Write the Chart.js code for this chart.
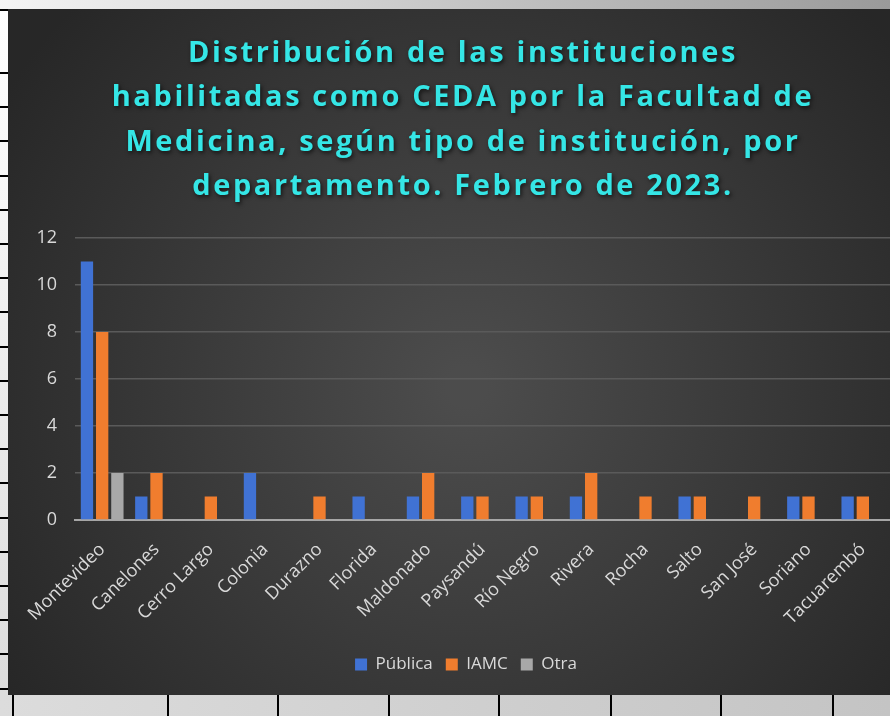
<!DOCTYPE html>
<html>
<head>
<meta charset="utf-8">
<script src="https://cdn.jsdelivr.net/npm/chart.js@4"></script>
<style>
  body { margin: 0; width: 890px; height: 716px; overflow: hidden; background: #fff; position: relative; }
  #topbar { position: absolute; left: 0; top: 0; width: 890px; height: 9px; background: linear-gradient(to right, #f4f4f4, #9a9a9a); }
  #leftcol { position: absolute; left: 0; top: 9px; width: 8px; height: 686px; background: linear-gradient(to bottom, #ffffff, #dcdcdc); border-top: 2px solid #000; box-sizing: border-box; }
  #leftlines { position: absolute; left: 0; top: 72px; width: 8px; height: 623px;
    background: repeating-linear-gradient(to bottom, #000 0, #000 2px, transparent 2px, transparent 34.2px); }
  #bottombar { position: absolute; left: 0; top: 695px; width: 890px; height: 21px; background: linear-gradient(to right, #dcdcdc, #c4c4c4); }
  .vline { position: absolute; top: 0; width: 2px; height: 21px; background: #000; }
  #wrap { position: absolute; left: 8px; top: 9px; width: 882px; height: 686px; }
</style>
</head>
<body>
<div id="topbar"></div>
<div id="leftcol"></div>
<div id="leftlines"></div>
<div id="bottombar"></div>
<div id="wrap"><canvas id="grafico"></canvas></div>
<script>
const departamentos = ['Montevideo', 'Canelones', 'Cerro Largo', 'Colonia', 'Durazno', 'Florida', 'Maldonado',
  'Paysandú', 'Río Negro', 'Rivera', 'Rocha', 'Salto', 'San José', 'Soriano', 'Tacuarembó'];
const publica = [11, 1, 0, 2, 0, 1, 1, 1, 1, 1, 0, 1, 0, 1, 1];
const iamc    = [8, 2, 1, 0, 1, 0, 2, 1, 1, 2, 1, 1, 1, 1, 1];
const otra    = [2, 0, 0, 0, 0, 0, 0, 0, 0, 0, 0, 0, 0, 0, 0];
const titulo = ['Distribución de las instituciones',
  'habilitadas como CEDA por la Facultad de',
  'Medicina, según tipo de institución, por',
  'departamento. Febrero de 2023.'];

// lineas de celdas de la planilla abajo
[12, 167, 277, 388, 498, 610, 720, 832].forEach(x => {
  const d = document.createElement('div');
  d.className = 'vline';
  d.style.left = x + 'px';
  document.getElementById('bottombar').appendChild(d);
});

// fondo oscuro con degradado
const fondo = {
  id: 'fondo',
  beforeDraw(chart) {
    const { ctx, width, height } = chart;
    const g = ctx.createRadialGradient(width * 0.52, height * 0.55, 20, width * 0.52, height * 0.55, width * 0.62);
    g.addColorStop(0, '#4c4c4c');
    g.addColorStop(1, '#272727');
    ctx.save();
    ctx.fillStyle = g;
    ctx.fillRect(0, 0, width, height);
    ctx.restore();
  }
};

// titulo con espaciado de letras (el plugin de titulo no lo permite)
const tituloEspaciado = {
  id: 'tituloEspaciado',
  afterDraw(chart) {
    const { ctx } = chart;
    ctx.save();
    ctx.font = 'bold 29px "Open Sans"';
    ctx.letterSpacing = '2.6px';
    ctx.textAlign = 'center';
    ctx.textBaseline = 'alphabetic';
    ctx.fillStyle = '#35e6e6';
    ctx.shadowColor = 'rgba(0,0,0,0.65)';
    ctx.shadowBlur = 4;
    ctx.shadowOffsetX = 1.5;
    ctx.shadowOffsetY = 2;
    titulo.forEach((linea, i) => {
      ctx.fillText(linea, 455, 53 + i * 44.4);
    });
    ctx.restore();
  }
};

// la leyenda en Excel queda un poco corrida a la derecha
const correrLeyenda = {
  id: 'correrLeyenda',
  afterLayout(chart) {
    chart.legend.left += 17;
    chart.legend.right += 17;
  }
};

const ctx = document.getElementById('grafico').getContext('2d');
new Chart(ctx, {
  type: 'bar',
  data: {
    labels: departamentos,
    datasets: [
      { label: 'Pública', data: publica, backgroundColor: '#4072d4' },
      { label: 'IAMC', data: iamc, backgroundColor: '#f07d2e' },
      { label: 'Otra', data: otra, backgroundColor: '#a8a8a8' }
    ]
  },
  options: {
    responsive: true,
    maintainAspectRatio: false,
    animation: false,
    datasets: {
      bar: { categoryPercentage: 0.84, barPercentage: 0.81 }
    },
    layout: { padding: { left: 0, right: 0, top: 229, bottom: 12 } },
    plugins: {
      legend: {
        position: 'bottom',
        labels: {
          color: '#d9d9d9',
          boxWidth: 12,
          boxHeight: 12,
          padding: 13,
          font: { family: 'Open Sans', size: 17 }
        }
      },
      tooltip: { enabled: false }
    },
    scales: {
      x: {
        grid: { display: false },
        border: { color: '#a6a6a6', width: 2 },
        ticks: {
          color: '#d9d9d9',
          font: { family: 'Open Sans', size: 18 },
          maxRotation: 45,
          minRotation: 45,
          autoSkip: false,
          padding: 11
        },
        afterFit(scale) { scale.height = 123; }
      },
      y: {
        min: 0,
        max: 12,
        ticks: { stepSize: 2, color: '#d9d9d9', font: { family: 'Open Sans', size: 18 }, padding: 18 },
        grid: { color: '#5a5a5a', lineWidth: 1.5, drawTicks: false },
        border: { display: false },
        afterFit(scale) { scale.width = 67; }
      }
    }
  },
  plugins: [fondo, tituloEspaciado, correrLeyenda]
});
</script>
</body>
</html>
